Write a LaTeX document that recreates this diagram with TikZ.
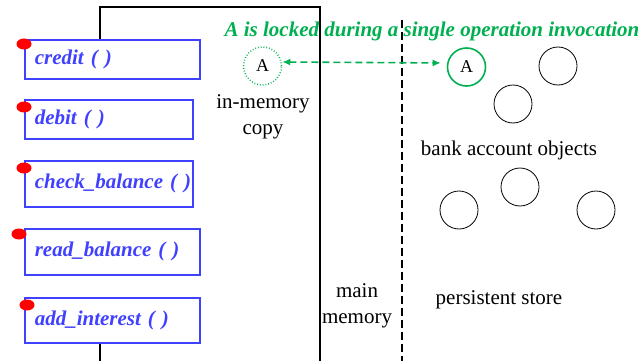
\documentclass[tikz,border=0pt]{standalone}
\usepackage{fontspec}
\setmainfont{Liberation Serif}
\usepackage{tikz}
\usetikzlibrary{arrows.meta}
\definecolor{opblue}{RGB}{64,64,255}
\definecolor{lockgreen}{RGB}{0,176,80}

\begin{document}
\begin{tikzpicture}[x=1pt,y=-1pt]
        \tikzstyle{every node}+=[inner sep=0pt]
        \tikzstyle{opbox}=[draw=opblue, line width=1.6pt, fill=white, anchor=north west, minimum height=39pt, inner xsep=10pt, align=left, text=opblue, font=\fontsize{21}{25}\selectfont\bfseries\itshape]
        \tikzstyle{obj}=[draw, circle, minimum size=38pt, line width=0.8pt, font=\fontsize{18}{21}\selectfont]
        \tikzstyle{lockdot}=[fill=red]
        \tikzstyle{plain}=[font=\fontsize{21}{26}\selectfont, align=center]
        \useasboundingbox (0,0) rectangle (644,361);
        % main memory frame
        \draw [line width=1.6pt] (100,39) -- (100,7) -- (320,7) -- (320,361);
        \draw [line width=1.6pt] (100,342) -- (100,361);
        % persistent store border
        \draw [line width=1.6pt, dash pattern=on 8pt off 4pt] (402,20) -- (402,361);
        % operations
        \node [opbox, text width=155pt] (credit) at (24,39) {credit ( )};
        \node [opbox, text width=148pt] (debit) at (24,99) {debit ( )};
        \node [opbox, text width=148pt, minimum height=46pt] (check) at (24,160) {\mbox{check\_balance ( )}};
        \node [opbox, text width=155pt, minimum height=46pt] (read) at (24,228) {read\_balance ( )};
        \node [opbox, text width=155pt, minimum height=45pt] (add) at (24,297) {add\_interest ( )};
        \fill [lockdot] (24,44) ellipse (7.5 and 5.5);
        \fill [lockdot] (24,107) ellipse (7.5 and 5.5);
        \fill [lockdot] (24,168) ellipse (7.5 and 5.5);
        \fill [lockdot] (19,234) ellipse (7.5 and 5.5);
        \fill [lockdot] (27,305) ellipse (7.5 and 5.5);
        % objects
        \node [obj, draw=lockgreen, dotted, line width=1.5pt] (copyA) at (262.5,66) {A};
        \node [obj, draw=lockgreen, line width=1.6pt] (storeA) at (466.5,67) {A};
        \node [obj] (objB) at (558,66) {};
        \node [obj] (objC) at (513,104) {};
        \node [obj] (objD) at (459,210) {};
        \node [obj] (objE) at (520,187) {};
        \node [obj] (objF) at (596,210) {};
        \draw [lockgreen, line width=1.6pt, dash pattern=on 7pt off 4pt, {Latex[length=8pt,width=7pt]}-{Latex[length=8pt,width=7pt]}, shorten >=6pt] ([yshift=4pt]copyA.east) -- ([yshift=4pt]storeA.west);
        % labels
        \node [text=lockgreen, font=\fontsize{21}{25}\selectfont\bfseries\itshape] (locked) at (432,31) {A is locked during a single operation invocation};
        \node [plain] (copy) at (263,117) {in-memory\\copy};
        \node [plain] (objects) at (509,150) {bank account objects};
        \node [plain] (memory) at (357,306) {main\\memory};
        \node [plain] (store) at (499,300) {persistent store};
\end{tikzpicture}
\end{document}
